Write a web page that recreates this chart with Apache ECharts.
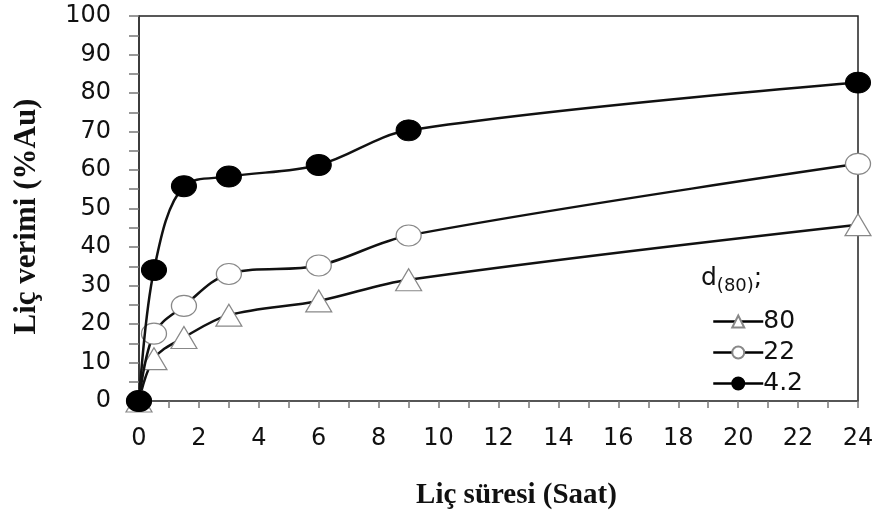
<!DOCTYPE html>
<html>
<head>
<meta charset="utf-8">
<script src="https://cdn.jsdelivr.net/npm/echarts@6/dist/echarts.min.js"></script>
<style>
  html, body { margin: 0; padding: 0; background: #fff; }
  #chart { width: 878px; height: 515px; }
</style>
</head>
<body>
<div id="chart"></div>
<script>
// leaching time (h)
var hours = [0, 0.5, 1.5, 3, 6, 9, 24];
// leaching yield (%Au) per d80 size
var yield80 = [0, 11, 16.5, 22.3, 26, 31.5, 45.8];
var yield22 = [0, 17.5, 24.7, 33, 35.2, 43, 61.6];
var yield42 = [0, 34, 55.8, 58.3, 61.3, 70.3, 82.7];
var seriesNames = ["80", "22", "4.2"];

function pairs(ys) {
  return hours.map(function (h, i) { return [h, ys[i]]; });
}

var chart = echarts.init(document.getElementById("chart"));
var sans = "DejaVu Sans, Arial";
var serif = "Liberation Serif, Times New Roman";
var tickFont = { fontFamily: sans, fontSize: 24, color: "#111" };

var option = {
  animation: false,
  backgroundColor: "#fff",
  grid: {
    left: 139, right: 20, top: 16, bottom: 110,
    show: true, borderColor: "#222", borderWidth: 1.5
  },
  xAxis: {
    type: "value",
    min: 0, max: 24, interval: 2,
    name: "Liç süresi (Saat)",
    nameLocation: "middle",
    nameGap: 80,
    nameTextStyle: { fontFamily: serif, fontSize: 29, fontWeight: "bold", color: "#111", padding: [0, 0, 0, 36] },
    axisLine: { show: true, lineStyle: { color: "#555", width: 1.5 } },
    axisTick: { show: true, length: 7, lineStyle: { color: "#777", width: 1.5 } },
    minorTick: { show: true, splitNumber: 2, length: 7, lineStyle: { color: "#777", width: 1.5 } },
    splitLine: { show: false },
    axisLabel: Object.assign({ margin: 26 }, tickFont)
  },
  yAxis: {
    type: "value",
    min: 0, max: 100, interval: 10,
    name: "Liç verimi (%Au)",
    nameLocation: "middle",
    nameGap: 97,
    nameTextStyle: { fontFamily: serif, fontSize: 31, fontWeight: "bold", color: "#111", padding: [0, 16, 0, 0] },
    axisLine: { show: true, lineStyle: { color: "#333", width: 1.5 } },
    axisTick: { show: true, length: 10, lineStyle: { color: "#777", width: 1.5 } },
    minorTick: { show: true, splitNumber: 2, length: 10, lineStyle: { color: "#777", width: 1.5 } },
    splitLine: { show: false },
    axisLabel: Object.assign({ margin: 28 }, tickFont)
  },
  legend: {
    orient: "vertical",
    left: 707,
    top: 304,
    itemWidth: 50,
    itemHeight: 15,
    itemGap: 6,
    lineStyle: { color: "#000", width: 2.5 },
    textStyle: { fontFamily: sans, fontSize: 25, color: "#111", padding: [0, 0, 0, -5] },
    data: seriesNames
  },
  graphic: [{
    type: "text",
    left: 701,
    top: 266,
    style: {
      text: "{d|d}{s|(80)}{d|;}",
      rich: {
        d: { fontFamily: sans, fontSize: 25, fill: "#111" },
        s: { fontFamily: sans, fontSize: 18, fill: "#111", padding: [16, 0, 0, 0] }
      }
    }
  }],
  series: [
    {
      name: seriesNames[0], type: "line", smooth: 0.35, clip: false,
      data: pairs(yield80),
      symbol: "triangle", symbolSize: [26, 22],
      lineStyle: { color: "#111", width: 2.5 },
      itemStyle: { color: "#fff", borderColor: "#888", borderWidth: 1.2 },
      z: 2
    },
    {
      name: seriesNames[1], type: "line", smooth: 0.35, clip: false,
      data: pairs(yield22),
      symbol: "circle", symbolSize: [25, 21],
      lineStyle: { color: "#111", width: 2.5 },
      itemStyle: { color: "#fff", borderColor: "#888", borderWidth: 1.2 },
      z: 3
    },
    {
      name: seriesNames[2], type: "line", smooth: 0.35, clip: false,
      data: pairs(yield42),
      symbol: "circle", symbolSize: [25, 21],
      lineStyle: { color: "#111", width: 2.5 },
      itemStyle: { color: "#000", borderColor: "#000", borderWidth: 1 },
      z: 4
    }
  ]
};
chart.setOption(option);
</script>
</body>
</html>
